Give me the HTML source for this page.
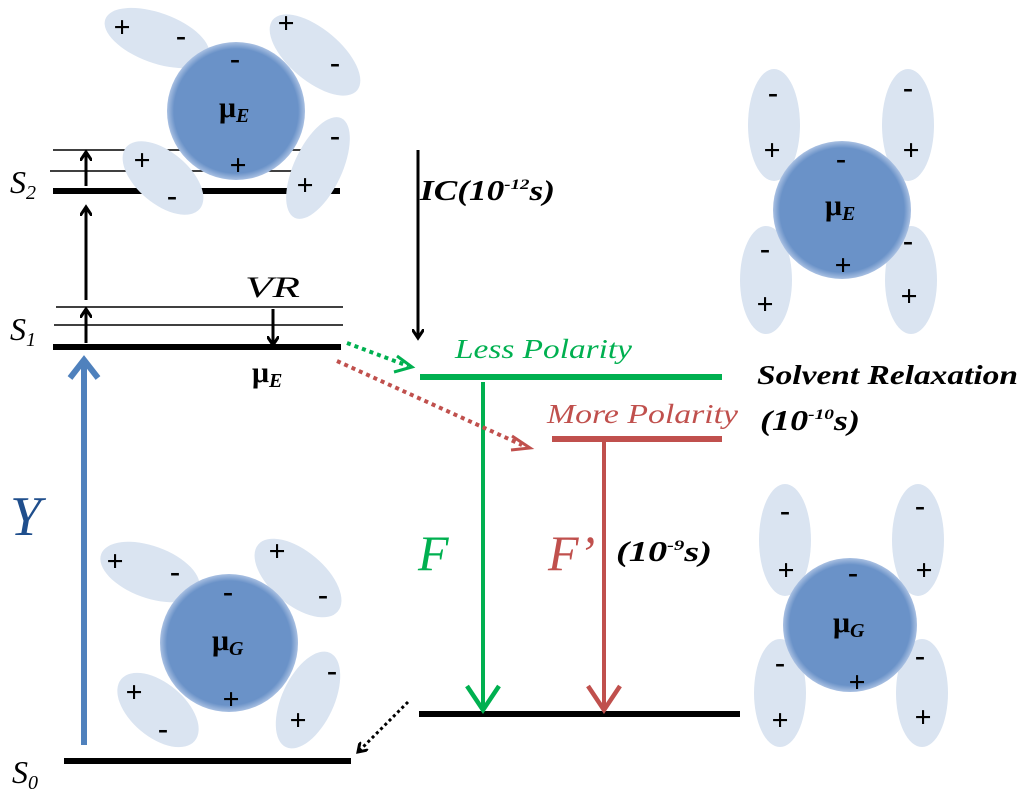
<!DOCTYPE html>
<html><head><meta charset="utf-8"><style>
html,body{margin:0;padding:0;background:#fff;}
svg{display:block;}
text{font-family:"Liberation Serif",serif;}
</style></head><body>
<svg width="1024" height="799" viewBox="0 0 1024 799" xmlns="http://www.w3.org/2000/svg">
<defs>
<marker id="ab" markerWidth="12" markerHeight="12" refX="9" refY="6" orient="auto" markerUnits="userSpaceOnUse"><path d="M0,0 L9,6 L0,12" fill="none" stroke="#000" stroke-width="3"/></marker>
<radialGradient id="cg"><stop offset="0.9" stop-color="#6a92c8"/><stop offset="1" stop-color="#a9c0e2"/></radialGradient>
</defs>
<!-- levels -->
<g stroke="#000">
<line x1="53" y1="150" x2="340" y2="150" stroke-width="1.5"/>
<line x1="50" y1="171" x2="340" y2="171" stroke-width="1.5"/>
<line x1="53" y1="191" x2="340" y2="191" stroke-width="6"/>
<line x1="56" y1="307" x2="343" y2="307" stroke-width="1.5"/>
<line x1="54" y1="325" x2="343" y2="325" stroke-width="1.5"/>
<line x1="53" y1="347" x2="341" y2="347" stroke-width="6"/>
<line x1="64" y1="761" x2="351" y2="761" stroke-width="6"/>
<line x1="419" y1="714" x2="740" y2="714" stroke-width="6"/>
</g>
<g fill="#dae4f1" stroke="none">
<ellipse cx="157" cy="38" rx="55" ry="25" transform="rotate(20 157 38)"/>
<ellipse cx="315" cy="55" rx="55" ry="26" transform="rotate(40 315 55)"/>
<ellipse cx="163" cy="178" rx="48" ry="26" transform="rotate(40 163 178)"/>
<ellipse cx="318" cy="168" rx="55" ry="24" transform="rotate(-65 318 168)"/>
<ellipse cx="150" cy="572" rx="52" ry="26" transform="rotate(20 150 572)"/>
<ellipse cx="298" cy="578" rx="52" ry="27" transform="rotate(40 298 578)"/>
<ellipse cx="158" cy="710" rx="48" ry="27" transform="rotate(40 158 710)"/>
<ellipse cx="308" cy="700" rx="52" ry="26" transform="rotate(-65 308 700)"/>
<ellipse cx="774" cy="125" rx="26" ry="56"/>
<ellipse cx="908" cy="125" rx="26" ry="56"/>
<ellipse cx="766" cy="280" rx="26" ry="54"/>
<ellipse cx="911" cy="280" rx="26" ry="54"/>
<ellipse cx="785" cy="540" rx="26" ry="56"/>
<ellipse cx="918" cy="540" rx="26" ry="56"/>
<ellipse cx="780" cy="693" rx="26" ry="54"/>
<ellipse cx="922" cy="693" rx="26" ry="54"/>
</g>
<g fill="url(#cg)">
<circle cx="236" cy="111" r="69"/>
<circle cx="229" cy="643" r="69"/>
<circle cx="842" cy="210" r="69"/>
<circle cx="850" cy="625" r="67"/>
</g>
<!-- black arrows -->
<g stroke="#000" stroke-width="3" fill="none">
<line x1="86" y1="300" x2="86" y2="207" marker-end="url(#ab)"/>
<line x1="86" y1="186" x2="86" y2="152" marker-end="url(#ab)"/>
<line x1="86" y1="343" x2="86" y2="309" marker-end="url(#ab)"/>
<line x1="273" y1="309" x2="273" y2="345" marker-end="url(#ab)"/>
<line x1="418" y1="150" x2="418" y2="338" marker-end="url(#ab)"/>
<line x1="408" y1="702" x2="358" y2="752" stroke-dasharray="3,3" marker-end="url(#ab)"/>
</g>
<line x1="84" y1="745" x2="84" y2="362" stroke="#4f81bd" stroke-width="6"/>
<path d="M70,378 L84,360 L98,378" fill="none" stroke="#4f81bd" stroke-width="6"/>
<line x1="420" y1="377" x2="722" y2="377" stroke="#00b050" stroke-width="6"/>
<line x1="483" y1="382" x2="483" y2="710" stroke="#00b050" stroke-width="4"/>
<path d="M467,686 L483,710 L499,686" fill="none" stroke="#00b050" stroke-width="4.5"/>
<line x1="347" y1="343" x2="408" y2="366" stroke="#00b050" stroke-width="4" stroke-dasharray="4,4"/>
<path d="M397,356 L412,367 L394,372" fill="none" stroke="#00b050" stroke-width="3"/>
<line x1="552" y1="439" x2="722" y2="439" stroke="#c0504d" stroke-width="6"/>
<line x1="604" y1="442" x2="604" y2="710" stroke="#c0504d" stroke-width="4"/>
<path d="M588,686 L604,710 L620,686" fill="none" stroke="#c0504d" stroke-width="4.5"/>
<line x1="337" y1="361" x2="522" y2="445" stroke="#c0504d" stroke-width="4" stroke-dasharray="4,4"/>
<path d="M512,436 L530,448 L511,450" fill="none" stroke="#c0504d" stroke-width="3"/>
<g font-style="italic" fill="#000">
<text x="10" y="193" font-size="32">S<tspan font-size="20" dy="6">2</tspan></text>
<text x="10" y="340" font-size="32">S<tspan font-size="20" dy="6">1</tspan></text>
<text x="12" y="783" font-size="32">S<tspan font-size="20" dy="6">0</tspan></text>
<text x="245" y="297" font-size="30" textLength="55" lengthAdjust="spacingAndGlyphs">VR</text>
<text x="420" y="200" font-weight="bold" font-size="28" textLength="135" lengthAdjust="spacingAndGlyphs">IC(10<tspan font-size="15" dy="-11">-12</tspan><tspan dy="11">s)</tspan></text>
<text x="757" y="384" font-weight="bold" font-size="27" textLength="261" lengthAdjust="spacingAndGlyphs">Solvent Relaxation</text>
<text x="760" y="430" font-weight="bold" font-size="28" textLength="100" lengthAdjust="spacingAndGlyphs">(10<tspan font-size="15" dy="-11">-10</tspan><tspan dy="11">s)</tspan></text>
<text x="616" y="561" font-weight="bold" font-size="28" textLength="96" lengthAdjust="spacingAndGlyphs">(10<tspan font-size="15" dy="-11">-9</tspan><tspan dy="11">s)</tspan></text>
<text x="455" y="358" fill="#00b050" font-size="27" textLength="177" lengthAdjust="spacingAndGlyphs">Less Polarity</text>
<text x="547" y="423" fill="#c0504d" font-size="27" textLength="191" lengthAdjust="spacingAndGlyphs">More Polarity</text>
<text x="418" y="570" fill="#00b050" font-size="50">F</text>
<text x="548" y="570" fill="#c0504d" font-size="50">F’</text>
<text x="10" y="535" fill="#1f4e8c" font-size="56">Y</text>
</g>
<g font-weight="bold" font-size="30" fill="#000">
<text x="219" y="117">μ<tspan font-size="20" dy="5" font-style="italic">E</tspan></text>
<text x="252" y="382">μ<tspan font-size="20" dy="5" font-style="italic">E</tspan></text>
<text x="212" y="650">μ<tspan font-size="20" dy="5" font-style="italic">G</tspan></text>
<text x="825" y="215">μ<tspan font-size="20" dy="5" font-style="italic">E</tspan></text>
<text x="833" y="632">μ<tspan font-size="20" dy="5" font-style="italic">G</tspan></text>
</g>
<g font-family="Liberation Sans,sans-serif" font-size="30" font-weight="bold" fill="#000" text-anchor="middle">
<text x="122" y="37">+</text><text x="181" y="45">-</text><text x="286" y="33">+</text><text x="335" y="72">-</text>
<text x="235" y="68">-</text><text x="238" y="175">+</text><text x="142" y="170">+</text><text x="172" y="205">-</text>
<text x="305" y="195">+</text><text x="335" y="145">-</text>
<text x="115" y="571">+</text><text x="175" y="581">-</text><text x="277" y="561">+</text><text x="323" y="604">-</text>
<text x="228" y="601">-</text><text x="231" y="709">+</text><text x="134" y="702">+</text><text x="163" y="738">-</text>
<text x="298" y="730">+</text><text x="332" y="680">-</text>
<text x="773" y="102">-</text><text x="772" y="160">+</text><text x="908" y="97">-</text><text x="911" y="160">+</text>
<text x="841" y="168">-</text><text x="843" y="275">+</text><text x="765" y="258">-</text><text x="765" y="314">+</text>
<text x="908" y="250">-</text><text x="909" y="306">+</text>
<text x="785" y="520">-</text><text x="786" y="580">+</text><text x="920" y="515">-</text><text x="924" y="580">+</text>
<text x="853" y="582">-</text><text x="857" y="692">+</text><text x="780" y="672">-</text><text x="780" y="730">+</text>
<text x="920" y="665">-</text><text x="923" y="727">+</text>
</g>
</svg>
</body></html>
